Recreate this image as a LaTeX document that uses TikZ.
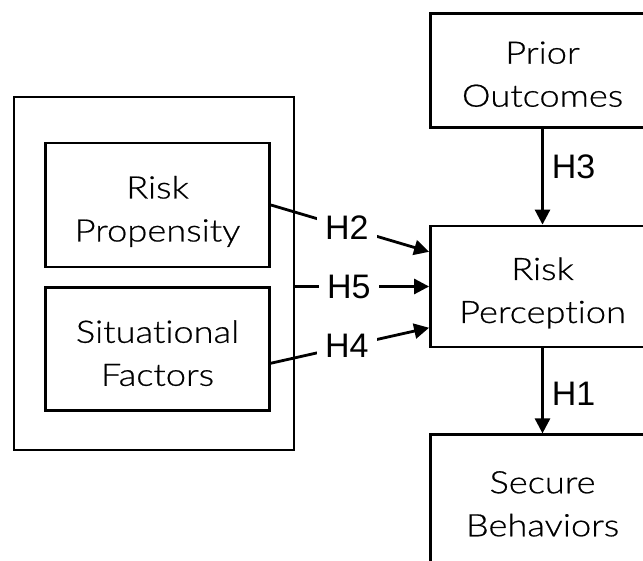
\documentclass[tikz,border=0pt]{standalone}
\usepackage{fontspec}
\setmainfont{Lato Light}[FakeStretch=1.17, FakeBold=0.6, Ligatures=NoCommon]
\newfontfamily\hypfont{Liberation Sans}
\usetikzlibrary{arrows.meta,positioning}

\begin{document}
\begin{tikzpicture}[
      x=1bp, y=1bp,
      mybox/.style={
         rectangle,
         draw=black,
         line width=2.8bp,
         inner sep=0pt,
         align=center,
         minimum width=224bp,
         font=\fontsize{31bp}{43bp}\selectfont,
         text height=79bp,
         text depth=6bp},
      groupbox/.style={
         rectangle,
         draw=black,
         line width=2.8bp,
         minimum width=280bp,
         minimum height=353bp},
      hyp/.style={
         fill=white,
         inner sep=8bp,
         font=\hypfont\fontsize{34bp}{40bp}\selectfont},
      myarrow/.style={line width=2.8bp,-{Triangle[length=15bp,width=15bp]}},
      node distance=18bp
      ]
      \useasboundingbox (0,0) rectangle (643,561);
      \clip (0,0) rectangle (643,561);

      \node[mybox, minimum height=121bp] (rperc) at (542.5,274.5) {Risk\\Perception};
      \node[mybox, minimum height=114bp, above=96bp of rperc] (prior) {Prior\\Outcomes};
      \node[mybox, minimum height=130bp, below=85bp of rperc] (secure) {Secure\\Behaviors};

      \node[groupbox] (grp) at (154,287.5) {};
      \node[mybox, minimum height=124bp] (risk) at (157.5,356) {Risk\\Propensity};
      \node[mybox, minimum height=123bp, below=of risk] (sit) {Situational\\Factors};

    \foreach \i/\j/\txt/\p/\a in {% start node/end node/text/position/anchor
      risk.east/rperc.163/H2/0.48/center,
      grp.east |- rperc.west/rperc.west/H5/0.40/center,
      sit.353/rperc.200/H4/0.48/center,
      prior/rperc/H3/0.4/west,
      rperc/secure/H1/0.53/west}
       \draw [myarrow] (\i) -- node[hyp,pos=\p,anchor=\a] {\txt} (\j);
    \end{tikzpicture}
\end{document}
